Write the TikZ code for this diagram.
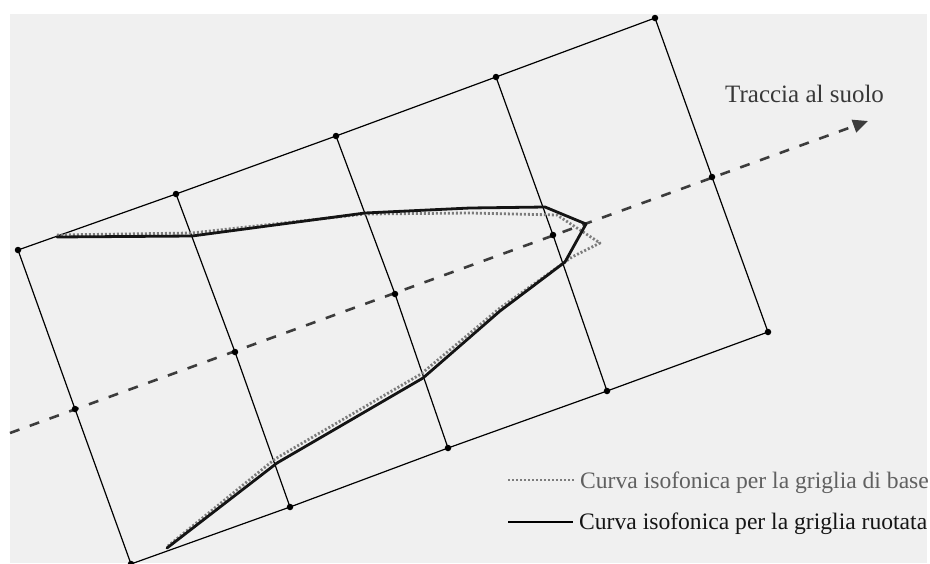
\documentclass[tikz,border=0pt]{standalone}
\usepackage{fontspec}
\setmainfont{Liberation Serif}
\usetikzlibrary{arrows.meta}
\definecolor{bgc}{HTML}{F0F0F0}
\definecolor{trace}{HTML}{3C3C3C}
\definecolor{dotc}{HTML}{7C7C7C}
\definecolor{greytext}{HTML}{606060}
\definecolor{darktext}{HTML}{151515}
\pgfdeclarelayer{bglayer}
\pgfdeclarelayer{linelayer}
\pgfsetlayers{bglayer,linelayer,main}
\tikzset{
  gdot/.style={circle,fill=black,inner sep=0pt,minimum size=6.5pt},
  gline/.style={draw=black,line width=1.2pt},
  tracel/.style={draw=trace,line width=2.6pt,dash pattern=on 10pt off 11pt,-{Triangle[length=15pt,width=13pt]}},
  solidc/.style={draw=black!92,line width=2.8pt,line join=round,line cap=round},
  dottedc/.style={draw=dotc,line width=2.8pt,dash pattern=on 2pt off 2pt,line join=round},
  lbl/.style={anchor=base west,inner sep=0pt}
}
\begin{document}
\begin{tikzpicture}[x=1pt,y=-1pt]
\useasboundingbox (0,0) rectangle (930,563);
\begin{pgfonlayer}{bglayer}
\fill[white] (0,0) rectangle (930,563);
\fill[bgc] (10,14) rectangle (927,563);
\end{pgfonlayer}
% grid points
\node[gdot] (a1) at (18,250) {};
\node[gdot] (a2) at (176,194) {};
\node[gdot] (a3) at (336,136) {};
\node[gdot] (a4) at (496,77) {};
\node[gdot] (a5) at (655,18) {};
\node[gdot] (b1) at (75,409) {};
\node[gdot] (b2) at (235,352) {};
\node[gdot] (b3) at (395,294) {};
\node[gdot] (b4) at (553,235) {};
\node[gdot] (b5) at (712,177) {};
\node[gdot] (c1) at (131,564) {};
\node[gdot] (c2) at (290,507) {};
\node[gdot] (c3) at (448,448) {};
\node[gdot] (c4) at (607,391) {};
\node[gdot] (c5) at (768,332) {};
\begin{pgfonlayer}{linelayer}
% grid lines
\draw[gline] (a1.center) -- (a2.center) -- (a3.center) -- (a4.center) -- (a5.center);
\draw[gline] (c1.center) -- (c2.center) -- (c3.center) -- (c4.center) -- (c5.center);
\foreach \i in {1,...,5}{
  \draw[gline] (a\i.center) -- (b\i.center) -- (c\i.center);
}
% ground trace
\coordinate (ts) at (10,433);
\coordinate (te) at (868,121);
\draw[tracel] (ts) -- (te);
% curves
\draw[dottedc] (57,235) -- (192,233) -- (365,214) -- (470,213) -- (557,215) -- (600,243) -- (572,257) -- (500,308) -- (421,374) -- (275,459) -- (168,546);
\draw[solidc] (57,237) -- (192,236) -- (365,213) -- (470,208) -- (545,207) -- (586,224) -- (565,262) -- (500,311) -- (423,378) -- (277,463) -- (167,548);
\end{pgfonlayer}
% labels
\node[lbl,text=darktext!85,font=\fontsize{25}{30}\selectfont] (tl) at (725,102) {Traccia al suolo};
\coordinate (l1a) at (508,480);
\coordinate (l1b) at (575,480);
\coordinate (l2a) at (508,522);
\coordinate (l2b) at (573,522);
\draw[draw=dotc,line width=2.8pt,dash pattern=on 2pt off 2pt] (l1a) -- (l1b);
\draw[draw=black,line width=2.8pt] (l2a) -- (l2b);
\node[lbl,text=greytext,font=\fontsize{23.6}{28}\selectfont] (t1) at (580,488) {Curva isofonica per la griglia di base};
\node[lbl,text=darktext,font=\fontsize{23.6}{28}\selectfont] (t2) at (579,529) {Curva isofonica per la griglia ruotata};
\end{tikzpicture}
\end{document}
